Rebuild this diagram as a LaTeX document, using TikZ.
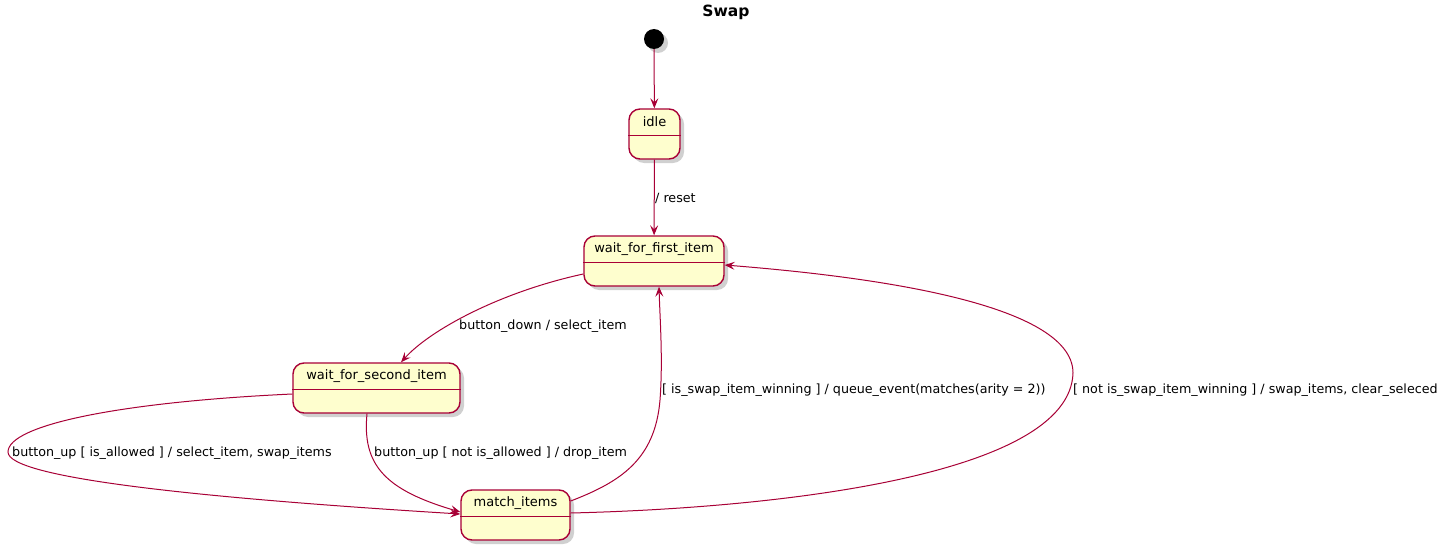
\documentclass[tikz,border=0pt]{standalone}
\usepackage{fontspec}
\setmainfont{DejaVu Sans}
\usetikzlibrary{arrows.meta,calc,shadows}
\definecolor{umlred}{HTML}{A80036}
\definecolor{umlfill}{HTML}{FEFECE}
\tikzset{
  x=1pt,y=-1pt,
  statebox/.style={draw=umlred,fill=umlfill,line width=1.4pt,rounded corners=11pt,
    minimum height=50pt,inner sep=0pt,
    drop shadow={shadow xshift=4pt,shadow yshift=-4pt,opacity=0.3,fill=black!60}},
  statetext/.style={font=\fontsize{13}{15}\selectfont,inner sep=0pt,anchor=center},
  divline/.style={draw=umlred,line width=1.2pt},
  trans/.style={draw=umlred,line width=1pt,-{Stealth[length=10pt,width=8pt,inset=4pt]}},
  translabel/.style={font=\fontsize{12.7}{15}\selectfont,inner sep=0pt,anchor=base west},
}
\begin{document}
\begin{tikzpicture}
\useasboundingbox (0,0) rectangle (1448,551);
\fill[white] (0,0) rectangle (1448,551);
% title
\node[font=\bfseries\fontsize{15.5}{18}\selectfont,inner sep=0pt] (title) at (726,12.5) {Swap};
% start
\node[circle,fill=black,minimum size=20pt,inner sep=0pt,
  drop shadow={shadow xshift=4pt,shadow yshift=-4pt,opacity=0.3,fill=black!60}] (start) at (654,39) {};
% states
\node[statebox,minimum width=51pt] (idle) at (654.5,134) {};
\node[statebox,minimum width=140pt] (wff) at (654,261) {};
\node[statebox,minimum width=167pt] (wfs) at (376.5,388) {};
\node[statebox,minimum width=109pt] (mi) at (515.5,515) {};
\foreach \n/\t in {idle/idle,wff/wait\_for\_first\_item,wfs/wait\_for\_second\_item,mi/match\_items}{
  \node[statetext] (\n-txt) at ($(\n.north)+(0,13.5)$) {\t};
  \draw[divline] ($(\n.north west)+(0,27)$) -- ($(\n.north east)+(0,27)$);
}
% transitions
\draw[trans] (start) -- (idle);
\draw[trans] (idle) -- (wff);
\draw[trans] ($(wff.west)+(0,13)$) .. controls (500,292) and (430,330) .. ($(wfs.north)+(24.5,0)$);
\draw[trans] ($(wfs.west)+(0,6)$) .. controls (120,402) and (8,425) .. (8,452)
   .. controls (8,478) and (200,498) .. ($(mi.west)+(0,-1)$);
\draw[trans] ($(wfs.south)+(-9.5,0)$) .. controls (362,465) and (385,490) .. ($(mi.west)+(0,-3)$);
\draw[trans] ($(mi.east)+(0,-14)$) .. controls (620,482) and (655,460) .. (660,400)
   .. controls (663,360) and (660,320) .. ($(wff.south)+(5,0)$);
\draw[trans] ($(mi.east)+(0,-2)$) .. controls (780,508) and (1070,475) .. (1073,373)
   .. controls (1073,300) and (850,275) .. ($(wff.east)+(0,4)$);
% labels
\node[translabel] (l1) at (655,202.5) {/ reset};
\node[translabel] (l2) at (459,329.5) {button\_down / select\_item};
\node[translabel] (l3) at (12,456.5) {button\_up [ is\_allowed ] / select\_item, swap\_items};
\node[translabel] (l4) at (374,456.5) {button\_up [ not is\_allowed ] / drop\_item};
\node[translabel] (l5) at (662,393.5) {[ is\_swap\_item\_winning ] / queue\_event(matches(arity = 2))};
\node[translabel] (l6) at (1073,393.5) {[ not is\_swap\_item\_winning ] / swap\_items, clear\_seleced};
\end{tikzpicture}
\end{document}
